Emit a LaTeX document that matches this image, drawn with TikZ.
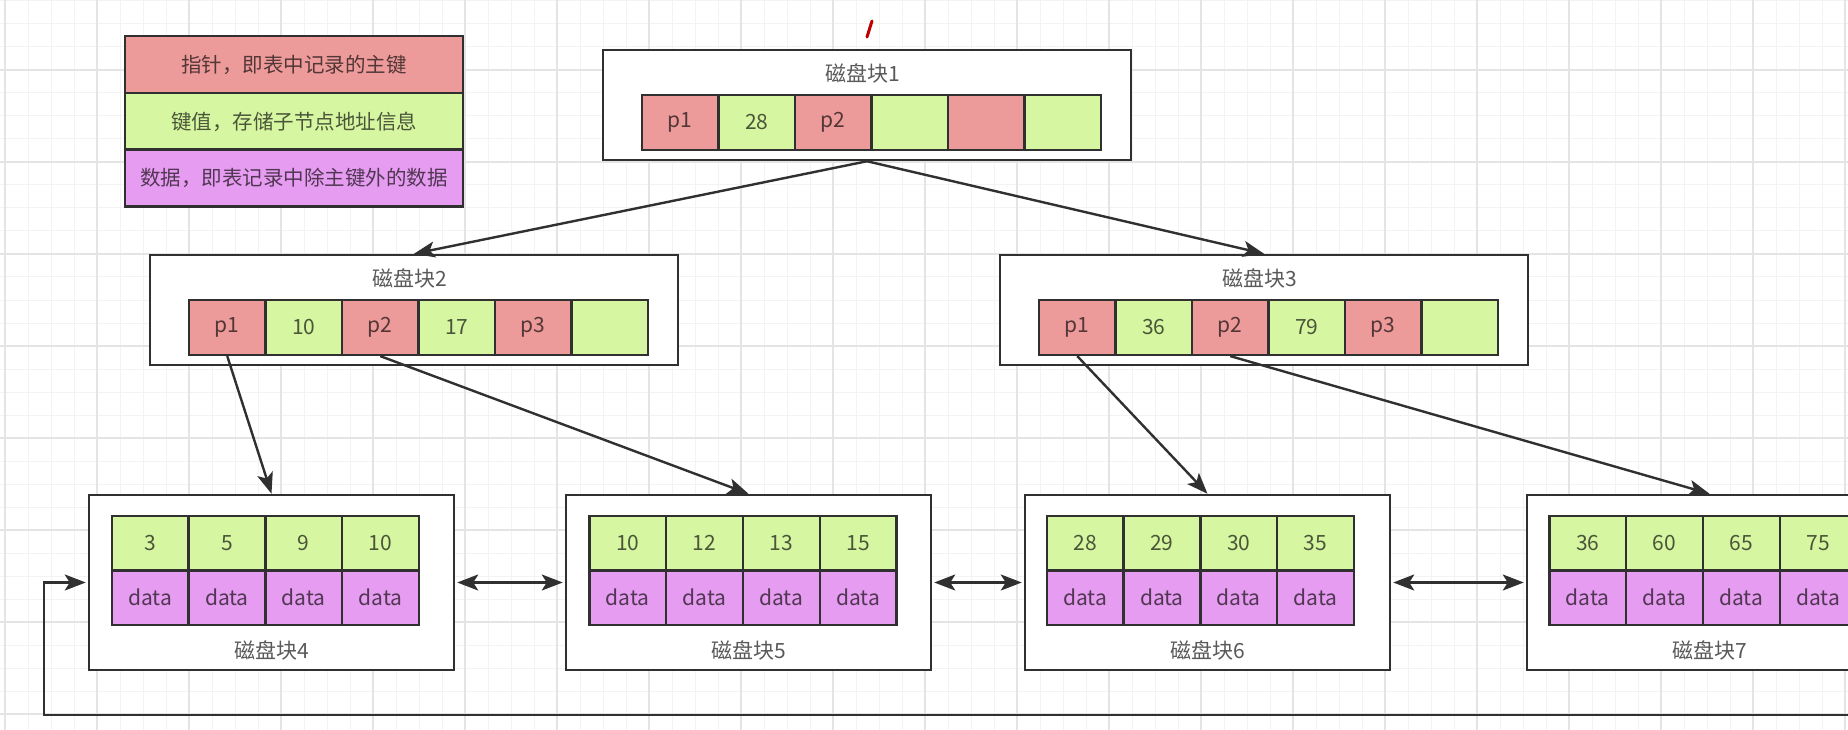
\documentclass[tikz,border=0pt]{standalone}
\usepackage{fontspec}
\newfontfamily\cjk{Noto Sans CJK SC}
\usetikzlibrary{arrows.meta}

\definecolor{ptrred}{HTML}{EC9B9A}
\definecolor{keygreen}{HTML}{D6F6A2}
\definecolor{datapink}{HTML}{E69CF0}
\definecolor{edge}{HTML}{303030}
\definecolor{gridminor}{HTML}{F3F3F3}
\definecolor{gridmajor}{HTML}{E4E4E4}

\begin{document}
\begin{tikzpicture}[x=1pt,y=-1pt,
  cell/.style={draw=edge,line width=2.2pt,minimum width=76.6pt,minimum height=55pt,inner sep=0pt,font=\cjk\fontsize{21}{25}\selectfont},
  blk/.style={draw=edge,line width=2.5pt,fill=white,inner sep=0pt},
  title/.style={text=black!65,font=\cjk\fontsize{21}{25}\selectfont},
  legend/.style={draw=edge,line width=2.2pt,minimum width=338pt,minimum height=57pt,inner sep=0pt,font=\cjk\fontsize{20.5}{25}\selectfont},
  arr/.style={draw=edge,line width=2.4pt,-{Stealth[length=21pt,width=16pt,inset=5pt]}},
  twoway/.style={draw=edge,line width=2.4pt,{Stealth[length=21pt,width=16pt,inset=5pt]}-{Stealth[length=21pt,width=16pt,inset=5pt]},shorten <=2pt,shorten >=2pt}]

\useasboundingbox (0,0) rectangle (1848,730);
\clip (0,0) rectangle (1848,730);
\fill[white] (0,0) rectangle (1848,730);

% grid
\foreach \gx in {5,28,...,1848} \draw[gridminor,line width=1pt] (\gx,0) -- (\gx,730);
\foreach \gy in {1,24,...,730} \draw[gridminor,line width=1pt] (0,\gy) -- (1848,\gy);
\foreach \gx in {5,97,...,1848} \draw[gridmajor,line width=1.3pt] (\gx,0) -- (\gx,730);
\foreach \gy in {-22,70,...,730} \draw[gridmajor,line width=1.3pt] (0,\gy) -- (1848,\gy);

% legend
\node[legend,fill=ptrred,text=ptrred!35!black] (lg1) at (294,64.5) {指针，即表中记录的主键};
\node[legend,fill=keygreen,text=keygreen!35!black] (lg2) at (294,121.5) {键值，存储子节点地址信息};
\node[legend,fill=datapink,text=datapink!35!black] (lg3) at (294,178) {数据，即表记录中除主键外的数据};

% upper blocks
\node[blk,minimum width=528pt,minimum height=110pt] (b1) at (867,105) {};
\node[blk,minimum width=528pt,minimum height=110pt] (b2) at (414,310) {};
\node[blk,minimum width=528pt,minimum height=110pt] (b3) at (1264,310) {};
\node[title] (t1) at (863,73) {磁盘块1};
\node[title] (t2) at (410,278) {磁盘块2};
\node[title] (t3) at (1260,278) {磁盘块3};

\foreach \lab/\fc [count=\i] in {p1/ptrred,28/keygreen,p2/ptrred,/keygreen,/ptrred,/keygreen}
  \node[cell,fill=\fc,text=\fc!35!black] (b1c\i) at (642+76.5*\i-38.25,122.5) {\lab};
\foreach \lab/\fc [count=\i] in {p1/ptrred,10/keygreen,p2/ptrred,17/keygreen,p3/ptrred,/keygreen}
  \node[cell,fill=\fc,text=\fc!35!black] (b2c\i) at (189+76.5*\i-38.25,327.5) {\lab};
\foreach \lab/\fc [count=\i] in {p1/ptrred,36/keygreen,p2/ptrred,79/keygreen,p3/ptrred,/keygreen}
  \node[cell,fill=\fc,text=\fc!35!black] (b3c\i) at (1039+76.5*\i-38.25,327.5) {\lab};

% leaf blocks
\foreach \bx/\bn in {271.5/4,748.5/5,1207.5/6,1709.5/7} {
  \node[blk,minimum width=365pt,minimum height=175pt] (b\bn) at (\bx,582.5) {};
  \node[title] (t\bn) at (\bx,650) {磁盘块\bn};
}
\foreach \cx/\bn/\ka/\kb/\kc/\kd in {111.7/4/3/5/9/10,589.3/5/10/12/13/15,1046.7/6/28/29/30/35,1549.3/7/36/60/65/75} {
  \foreach \lab [count=\i] in {\ka,\kb,\kc,\kd} {
    \node[cell,fill=keygreen,text=keygreen!35!black,minimum height=54.5pt] (b\bn k\i) at (\cx+76.8*\i-38.4,543.25) {\lab};
    \node[cell,fill=datapink,text=datapink!35!black,minimum height=54.5pt] (b\bn d\i) at (\cx+76.8*\i-38.4,597.75) {data};
  }
}

% links
\draw[arr] (b1.south) -- (b2.north);
\draw[arr] (b1.south) -- (b3.north);
\draw[arr] (b2c1.south) -- (b4.north);
\draw[arr] (b2c3.south) -- (b5.north);
\draw[arr] (b3c1.south) -- (b6.north);
\draw[arr] (b3c3.south) -- (b7.north);
\draw[twoway] (b4.east) -- (b5.west);
\draw[twoway] (b5.east) -- (b6.west);
\draw[twoway] (b6.east) -- (b7.west);
\coordinate (loopin) at (1860,715);
\coordinate (loopturn) at (44,715);
\draw[arr,shorten >=2pt] (loopin) -- (loopturn) |- (b4.west);

% pen mark
\draw[red!75!black,line width=3pt,line cap=round] (867,37) -- (872,21);
\end{tikzpicture}
\end{document}
